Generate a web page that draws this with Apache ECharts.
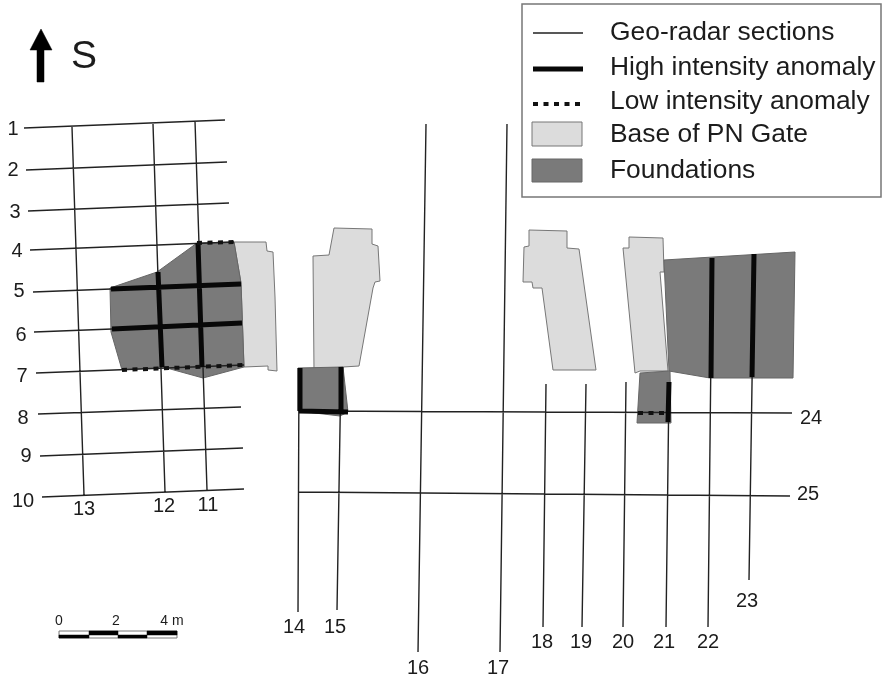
<!DOCTYPE html>
<html>
<head>
<meta charset="utf-8">
<style>html,body{margin:0;padding:0;background:#fff}#c{width:882px;height:679px}</style>
<script src="https://cdn.jsdelivr.net/npm/echarts@6/dist/echarts.min.js"></script>
</head>
<body>
<div id="c"></div>
<script>
// Site plan, in plan units.
const sections = [
  [[24,128],[225,120]], [[26,170],[227,162]], [[28,211],[229,203]], [[30,250],[234,242]],
  [[33,292],[241,284]], [[34,332],[242,324]], [[36,373],[244,365]], [[38,414],[241,407]],
  [[40,456],[243,448]], [[42,497],[244,489]],
  [[72,127],[84,495]], [[153,124],[165,492]], [[195,121],[207,490]],
  [[299,368],[298,612]], [[341,367],[337,610]], [[426,124],[418,652]], [[507,124],[500,652]],
  [[546,384],[543,627]], [[586,384],[582,627]], [[626,382],[623,627]], [[669,382],[666,627]],
  [[712,258],[708,627]], [[754,254],[749,580]],
  [[299,411],[792,413]], [[299,492],[790,496]]
];
const highAnomalies = [
  [[158,272],[162,367]], [[198,243],[202,367]], [[111,289],[241,284]], [[112,329],[242,323]],
  [[300,368],[300,411]], [[341,367],[341,412]], [[299,411],[348,412]],
  [[669,382],[668,422]], [[712,258],[711,378]], [[754,254],[752,377]]
];
const lowAnomalies = [
  [[197,243],[234,242]], [[122,370],[244,365]], [[638,413],[668,413]]
];
const basePolygons = [
  [[234,242],[266,242],[267,251],[273,252],[275,297],[277,371],[268,370],[268,366],[244,367],[241,283]],
  [[334,228],[372,229],[372,244],[378,246],[380,281],[375,282],[373,288],[359,366],[343,367],[320,369],[314,371],[313,256],[329,255]],
  [[529,230],[567,231],[567,248],[579,249],[596,370],[553,370],[542,288],[533,288],[532,282],[523,282],[524,247],[529,246]],
  [[629,237],[663,238],[664,272],[660,272],[668,371],[640,371],[635,373],[623,248],[629,248]]
];
const foundationPolygons = [
  [[197,243],[234,242],[241,283],[244,367],[203,378],[163,367],[122,370],[111,332],[110,288],[157,272]],
  [[298,368],[343,367],[348,412],[340,416],[298,411]],
  [[664,260],[795,252],[793,378],[710,378],[669,371]],
  [[640,373],[670,371],[671,423],[637,423]]
];
const sectionLabels = [
  ['1',13,129],['2',13,170],['3',15,212],['4',17,251],['5',19,291],['6',21,335],['7',22,376],['8',23,418],['9',26,456],['10',23,501],
  ['13',84,509],['12',164,506],['11',208,505],
  ['14',294,627],['15',335,627],['16',418,668],['17',498,668],['18',542,642],['19',581,642],['20',623,642],['21',664,642],['22',708,642],['23',747,601],
  ['24',811,418],['25',808,494]
];
const legendLabels = [
  ['Geo-radar sections',33],['High intensity anomaly',68],['Low intensity anomaly',102],['Base of PN Gate',135],['Foundations',171]
];
const legendBox = [[522,4],[881,4],[881,197],[522,197]];
const legendThin = [[533,33],[583,33]];
const legendHigh = [[533,69],[583,69]];
const legendLow = [[533,104],[581,104]];
const legendBase = [[532,122],[582,122],[582,146],[532,146]];
const legendFoundation = [[532,159],[582,159],[582,182],[532,182]];
const northArrow = [[41,29],[52,50],[44,50],[44,82],[37,82],[37,50],[30,50]];
const scaleBlack = [
  [[59,635],[89,635],[89,638],[59,638]], [[89,631],[118,631],[118,635],[89,635]],
  [[118,635],[147,635],[147,638],[118,638]], [[147,631],[177,631],[177,635],[147,635]]
];
const scaleFrame = [[59,631],[177,631],[177,638],[59,638]];
const scaleLabels = [['0',59,621],['2',116,621],['4 m',172,621]];

const FONT = '"Liberation Sans", Arial, sans-serif';
const chart = echarts.init(document.getElementById('c'), null, {renderer:'canvas'});

function joined(lists){
  const out = [];
  lists.forEach((l,i)=>{ if(i) out.push(['-','-']); l.forEach(p=>out.push(p)); });
  return out;
}
function lineSeries(name, lists, color, width, dash, z){
  return {type:'line', name, data:joined(lists), z, silent:true, animation:false,
    showSymbol:false, symbol:'none', connectNulls:false,
    lineStyle:{color, width, type: dash || 'solid', cap:'butt', join:'miter'}};
}
function polySeries(name, polys, fill, stroke, sw, z){
  return {type:'custom', name, z, silent:true, animation:false, clip:false,
    data: polys.map((_,i)=>[i]),
    encode:{x:[],y:[]},
    renderItem(params, api){
      const pts = polys[api.value(0)].map(p=>api.coord(p));
      return {type:'polygon', shape:{points:pts}, style:{fill, stroke, lineWidth:sw}};
    }};
}
function textSeries(name, labels, size, align, z){
  return {type:'custom', name, z, silent:true, animation:false, clip:false,
    data: labels.map((_,i)=>[i]),
    encode:{x:[],y:[]},
    renderItem(params, api){
      const l = labels[api.value(0)];
      const c = api.coord([l[1], l[2]]);
      return {type:'text', x:c[0], y:c[1], style:{text:l[0], fill:'#1c1c1c', font:size+'px '+FONT, align, verticalAlign:'middle'}};
    }};
}
chart.setOption({
  animation:false,
  backgroundColor:'#fff',
  grid:{left:0,right:0,top:0,bottom:0},
  xAxis:{type:'value',min:0,max:882,show:false},
  yAxis:{type:'value',min:0,max:679,inverse:true,show:false},
  series:[
    polySeries('Legend box',[legendBox],'#fff','#777',1.5,1),
    polySeries('Base of PN Gate',basePolygons.concat([legendBase]),'#dcdcdc','#777',1,2),
    polySeries('Foundations',foundationPolygons.concat([legendFoundation]),'#7a7a7a','#666',1,3),
    lineSeries('Geo-radar sections',sections.concat([legendThin]),'#222',1.4,null,4),
    lineSeries('High intensity anomaly',highAnomalies.concat([legendHigh]),'#080808',5,null,5),
    lineSeries('Low intensity anomaly',lowAnomalies.concat([legendLow]),'#111',4,[5,5.5],6),
    polySeries('North arrow',[northArrow],'#000','#000',0.5,7),
    polySeries('Scale frame',[scaleFrame],'#fff','#777',1,7),
    polySeries('Scale bar',scaleBlack,'#000','#000',0.5,8),
    textSeries('Section labels',sectionLabels,20,'center',9),
    textSeries('Scale labels',scaleLabels,14,'center',9),
    textSeries('Legend labels',legendLabels.map(l=>[l[0],610,l[1]]),26.4,'left',9),
    textSeries('Orientation',[['S',84,57]],39,'center',9)
  ]
});
</script>
</body>
</html>
